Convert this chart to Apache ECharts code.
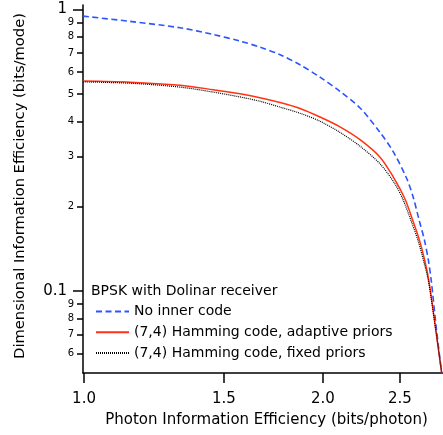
<!DOCTYPE html>
<html>
<head>
<meta charset="utf-8">
<script src="https://cdn.jsdelivr.net/npm/echarts@6/dist/echarts.min.js"></script>
<style>
html,body{margin:0;padding:0;background:#fff;}
#chart{width:443px;height:435px;}
</style>
</head>
<body>
<div id="chart"></div>
<script>
// ---- data ----
var seriesNames = ['No inner code', '(7,4) Hamming code, adaptive priors', '(7,4) Hamming code, fixed priors'];
var legendTitle = 'BPSK with Dolinar receiver';

var noInnerX = [0.997, 1.143, 1.321, 1.454, 1.572, 1.666, 1.766, 1.871, 1.983, 2.101, 2.227, 2.360, 2.453, 2.550, 2.599, 2.643, 2.684, 2.715, 2.738, 2.780, 2.822];
var noInnerY = [0.947, 0.907, 0.861, 0.815, 0.772, 0.735, 0.691, 0.636, 0.575, 0.512, 0.447, 0.366, 0.312, 0.251, 0.215, 0.179, 0.152, 0.129, 0.109, 0.073, 0.0512];

var adaptiveX = [0.997, 1.143, 1.321, 1.454, 1.572, 1.666, 1.766, 1.871, 1.983, 2.101, 2.227, 2.360, 2.453, 2.538, 2.592, 2.643, 2.684, 2.719, 2.774, 2.822];
var adaptiveY = [0.557, 0.552, 0.538, 0.519, 0.502, 0.486, 0.467, 0.445, 0.415, 0.383, 0.345, 0.299, 0.254, 0.212, 0.180, 0.153, 0.130, 0.109, 0.073, 0.0512];

var fixedX = [0.997, 1.143, 1.321, 1.454, 1.572, 1.666, 1.766, 1.871, 1.983, 2.101, 2.227, 2.360, 2.465, 2.525, 2.580, 2.633, 2.676, 2.715, 2.774, 2.822];
var fixedY = [0.553, 0.547, 0.530, 0.509, 0.489, 0.472, 0.450, 0.428, 0.401, 0.366, 0.327, 0.283, 0.240, 0.210, 0.179, 0.152, 0.129, 0.109, 0.073, 0.0512];

var xTicks = [1.0, 1.5, 2.0, 2.5];
var yMajorTicks = [0.1, 1];
var yMinorTicks = [0.06, 0.07, 0.08, 0.09, 0.2, 0.3, 0.4, 0.5, 0.6, 0.7, 0.8, 0.9];

var xTitle = 'Photon Information Efficiency (bits/photon)';
var yTitle = 'Dimensional Information Efficiency (bits/mode)';

// ---- build ----
function zip(xs, ys) { return xs.map(function (x, i) { return [x, ys[i]]; }); }

var FONT = 'DejaVu Sans';
var xMin = 0.997, xMax = 2.833, yMin = 0.0512, yMax = 1.037;

var chart = echarts.init(document.getElementById('chart'), null, {renderer: 'canvas'});
chart.setOption({
  animation: false,
  backgroundColor: '#fff',
  grid: {left: 83, right: 0, top: 5, bottom: 62},
  legend: {
    orient: 'vertical', left: 95, top: 304.5, padding: 0,
    itemWidth: 33, itemHeight: 14, itemGap: 6.8,
    data: seriesNames,
    itemStyle: {opacity: 0},
    textStyle: {fontFamily: FONT, fontSize: 14, color: '#000'}
  },
  graphic: [{
    type: 'text', x: 91, y: 291,
    style: {text: legendTitle, font: '14px "DejaVu Sans"', fill: '#000', verticalAlign: 'middle', align: 'left'}
  }],
  xAxis: {
    type: 'log', min: xMin, max: xMax, logBase: 10,
    name: xTitle, nameLocation: 'middle', nameGap: 40,
    nameTextStyle: {fontFamily: FONT, fontSize: 15, color: '#000', padding: [0, 0, 0, 7]},
    axisLine: {show: true, lineStyle: {color: '#000', width: 1.5}},
    axisTick: {show: true, inside: false, length: 10, lineStyle: {color: '#000', width: 1.5}, customValues: xTicks},
    axisLabel: {show: true, margin: 19, fontFamily: FONT, fontSize: 15, color: '#000', customValues: xTicks,
      formatter: function (v) { return Number(v).toFixed(1); }},
    splitLine: {show: false}, minorTick: {show: false}
  },
  yAxis: [{
    type: 'log', min: yMin, max: yMax, logBase: 10, position: 'left',
    name: yTitle, nameLocation: 'middle', nameGap: 55,
    nameTextStyle: {fontFamily: FONT, fontSize: 14.7, color: '#000', padding: [0, 0, 0, 6]},
    axisLine: {show: true, lineStyle: {color: '#000', width: 1.5}},
    axisTick: {show: true, inside: false, length: 10, lineStyle: {color: '#000', width: 1.5}, customValues: yMajorTicks},
    axisLabel: {show: true, margin: 16, fontFamily: FONT, fontSize: 15, color: '#000', customValues: yMajorTicks,
      formatter: function (v) { return v >= 1 ? '1' : '0.1'; }},
    splitLine: {show: false}, minorTick: {show: false}
  }, {
    type: 'log', min: yMin, max: yMax, logBase: 10, position: 'left', offset: 0,
    axisLine: {show: false},
    axisTick: {show: true, inside: false, length: 6, lineStyle: {color: '#000', width: 1.5}, customValues: yMinorTicks},
    axisLabel: {show: true, margin: 9, fontFamily: FONT, fontSize: 10, color: '#000', customValues: yMinorTicks,
      formatter: function (v) { var s = Number(v).toPrecision(1); return s.replace(/0\.0*/, ''); }},
    splitLine: {show: false}, minorTick: {show: false}
  }],
  series: [{
    name: seriesNames[0], type: 'line', yAxisIndex: 0, showSymbol: false, symbol: 'none',
    smooth: 0.3, clip: true,
    data: zip(noInnerX, noInnerY),
    lineStyle: {color: '#2b55ff', width: 1.6, type: [6, 3.5]},
    itemStyle: {color: '#2b55ff'}
  }, {
    name: seriesNames[1], type: 'line', yAxisIndex: 0, showSymbol: false, symbol: 'none',
    smooth: 0.3, clip: true,
    data: zip(adaptiveX, adaptiveY),
    lineStyle: {color: '#ff3314', width: 1.5, type: 'solid'},
    itemStyle: {color: '#ff3314'}
  }, {
    name: seriesNames[2], type: 'line', yAxisIndex: 0, showSymbol: false, symbol: 'none',
    smooth: 0.3, clip: true,
    data: zip(fixedX, fixedY),
    lineStyle: {color: '#000', width: 1.2, type: [1, 1]},
    itemStyle: {color: '#000'}
  }]
});
</script>
</body>
</html>
